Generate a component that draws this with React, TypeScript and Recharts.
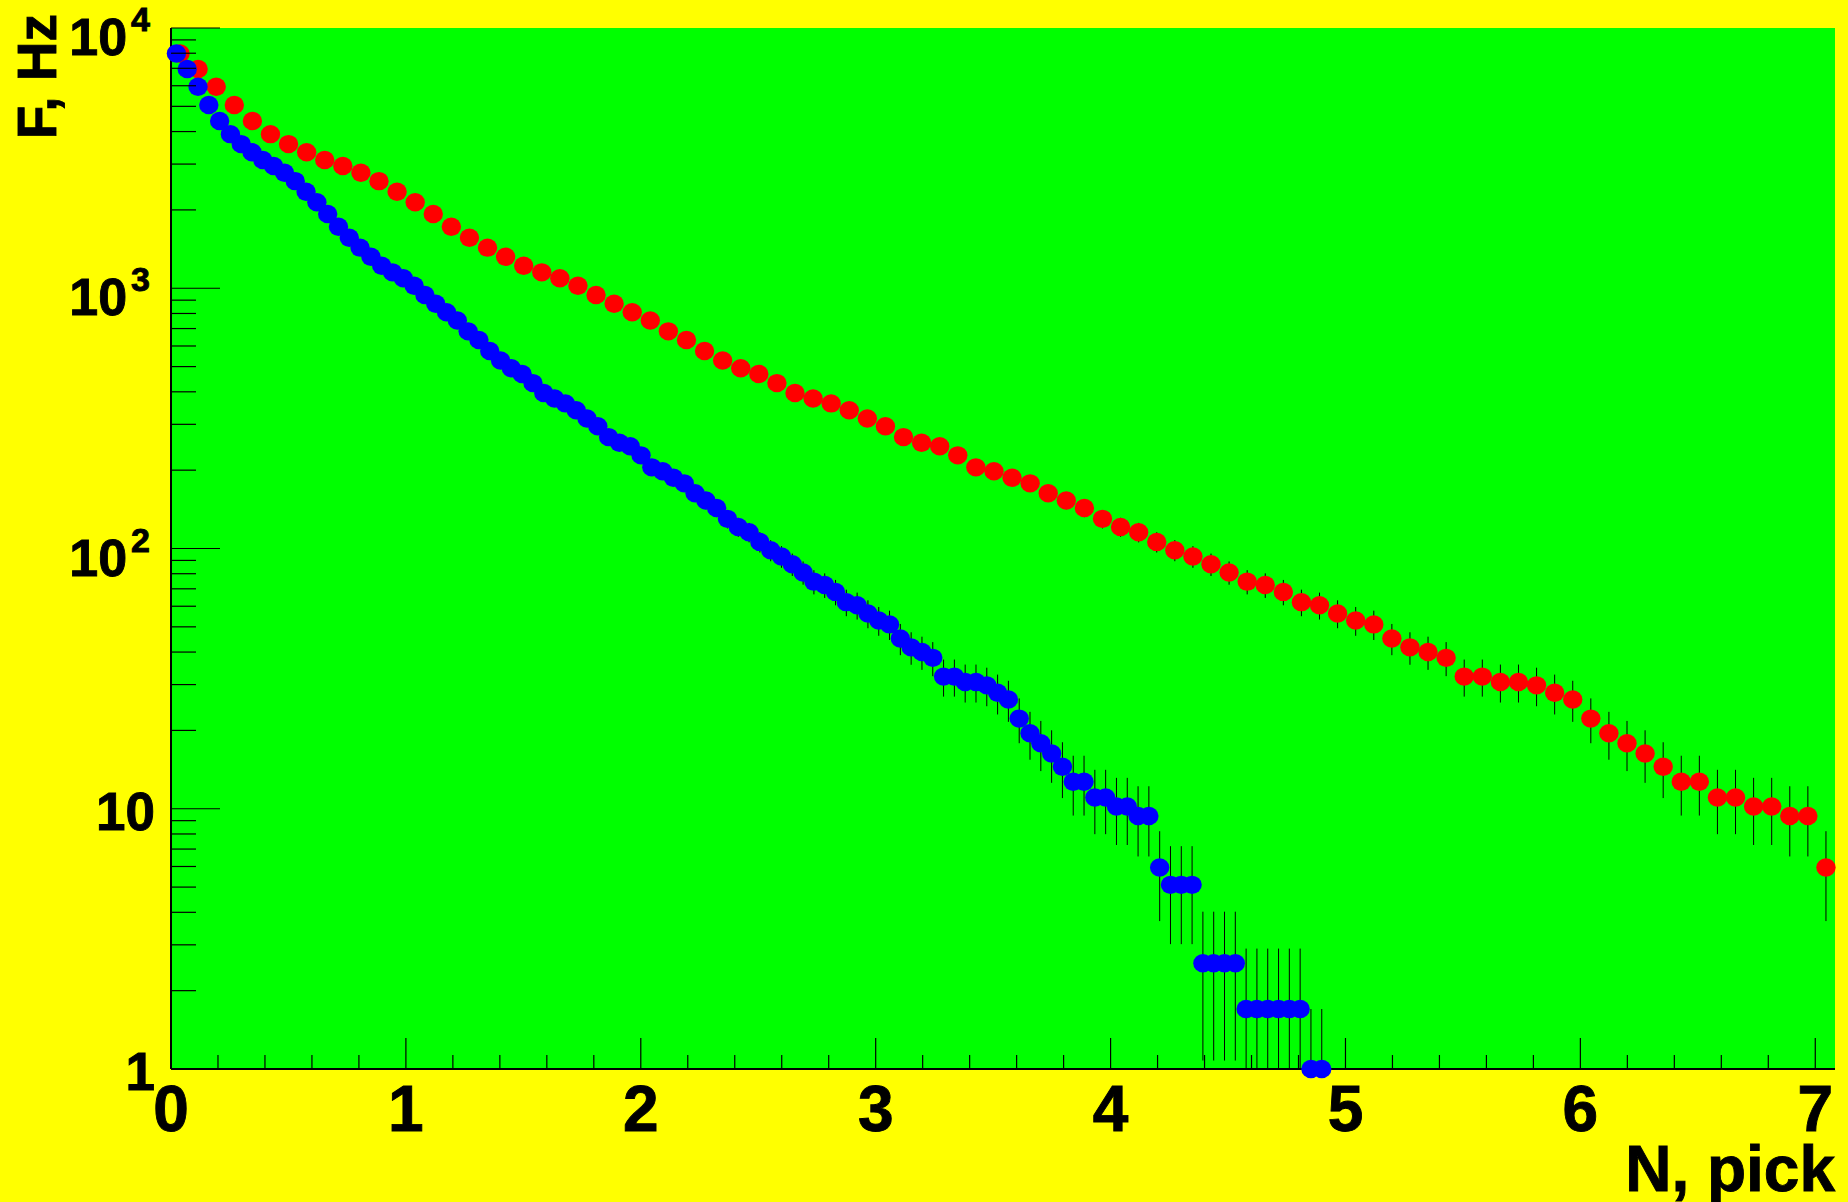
import React from 'react';
import { ScatterChart, Scatter, XAxis, YAxis, CartesianGrid, ErrorBar } from 'recharts';

// Rate per bin (Hz). The same histogram is drawn twice:
// red with the wide bin width, blue with the narrow one.
const binRates = [
  7980, 6960, 5950, 5060, 4390, 3910, 3580, 3330, 3110, 2950,
  2780, 2580, 2350, 2140, 1930, 1724, 1564, 1432, 1322, 1221,
  1151, 1092, 1023, 942, 872, 809, 752, 683, 633, 574,
  528, 493, 468, 432, 396, 377, 361, 340, 316, 295,
  268, 255, 247, 228, 205, 198, 187, 178, 163, 153,
  143, 130, 121, 115.5, 106, 98.5, 93.2, 87.0, 80.9, 74.6,
  72.4, 68.1, 62.2, 60.5, 56.3, 52.9, 51.1, 45.1, 41.7, 40.0,
  38.0, 32.2, 32.2, 30.7, 30.7, 29.8, 27.9, 26.3, 22.2, 19.5,
  17.85, 16.3, 14.5, 12.7, 12.7, 11.05, 11.05, 10.2, 10.2, 9.38,
  9.38, 5.95, 5.1, 5.1, 5.1, 2.55, 2.55, 2.55, 2.55, 1.7,
  1.7, 1.7, 1.7, 1.7, 1.7, 0.85, 0.85,
];

// Hz carried by one count (error bars are Poisson: sqrt(N) counts)
const COUNT_WEIGHT = 0.85;

const redBinWidth = 0.077;
const blueBinWidth = 0.046;

const X_MIN = 0;
const X_MAX = 7.084;
const Y_MIN = 1;
const Y_MAX = 10000;

const xTicks = [
  0, 0.2, 0.4, 0.6, 0.8, 1, 1.2, 1.4, 1.6, 1.8,
  2, 2.2, 2.4, 2.6, 2.8, 3, 3.2, 3.4, 3.6, 3.8,
  4, 4.2, 4.4, 4.6, 4.8, 5, 5.2, 5.4, 5.6, 5.8,
  6, 6.2, 6.4, 6.6, 6.8, 7,
];
const xLabelTicks = [0, 1, 2, 3, 4, 5, 6, 7];

const yTicks = [
  1, 2, 3, 4, 5, 6, 7, 8, 9,
  10, 20, 30, 40, 50, 60, 70, 80, 90,
  100, 200, 300, 400, 500, 600, 700, 800, 900,
  1000, 2000, 3000, 4000, 5000, 6000, 7000, 8000, 9000,
  10000,
];
const yLabelTicks = [1, 10, 100, 1000, 10000];

const xTitle = 'N, pick';
const yTitle = 'F, Hz';

const FONT = '"Liberation Sans", Arial, Helvetica, sans-serif';
const BG = '#ffff00';
const PLOT_BG = '#00ff00';
const RED = '#ff0000';
const BLUE = '#0000ff';
const TEXT_STROKE = 0.9;

function buildSeries(binWidth: number) {
  return binRates
    .map((v, i) => {
      const x = (i + 0.5) * binWidth;
      const y = Math.max(v, Y_MIN);
      const err = Math.sqrt(COUNT_WEIGHT * v);
      const hi = v + err - y;
      const lo = Math.max(0, Math.min(y - (v - err), y - Y_MIN));
      return { x, y, err: [lo, hi] };
    })
    .filter((d) => d.x <= X_MAX);
}

const redData = buildSeries(redBinWidth);
const blueData = buildSeries(blueBinWidth);

const makeMarker = (color: string) => (props: any) => {
  const { cx, cy } = props;
  if (cx == null || cy == null || Number.isNaN(cx) || Number.isNaN(cy)) return <g />;
  return <ellipse cx={cx} cy={cy} rx={9.7} ry={9.2} fill={color} stroke="none" />;
};

function XTick(props: any) {
  const { x, y, payload } = props;
  const v = Number(payload?.value);
  const major = xLabelTicks.some((t) => Math.abs(t - v) < 1e-6);
  return (
    <g>
      <line x1={x} x2={x} y1={y} y2={y - (major ? 31 : 14)} stroke="#000" strokeWidth={1.2} />
      {major && (
        <text
          x={x}
          y={y + 62}
          textAnchor="middle"
          fontFamily={FONT}
          fontWeight="bold"
          fontSize={64}
          fill="#000"
          stroke="#000"
          strokeWidth={TEXT_STROKE}
        >
          {Math.round(v)}
        </text>
      )}
    </g>
  );
}

function YTick(props: any) {
  const { x, y, payload } = props;
  const v = Number(payload?.value);
  const major = yLabelTicks.some((t) => Math.abs(t - v) < 1e-6);
  const exp = Math.round(Math.log10(v));
  let label: React.ReactNode = null;
  if (major) {
    if (exp <= 1) {
      label = (
        <text
          x={x - 16}
          y={y + 21}
          textAnchor="end"
          fontFamily={FONT}
          fontWeight="bold"
          fontSize={53}
          fill="#000"
          stroke="#000"
          strokeWidth={TEXT_STROKE}
        >
          {exp === 0 ? '1' : '10'}
        </text>
      );
    } else {
      label = (
        <text
          x={x - 21}
          y={y + 27}
          textAnchor="end"
          fontFamily={FONT}
          fontWeight="bold"
          fontSize={52}
          fill="#000"
          stroke="#000"
          strokeWidth={TEXT_STROKE}
        >
          <tspan>10</tspan>
          <tspan dx={4} dy={-24} fontSize={34}>{exp}</tspan>
        </text>
      );
    }
  }
  return (
    <g>
      <line x1={x} x2={x + (major ? 49 : 25)} y1={y} y2={y} stroke="#000" strokeWidth={1.2} />
      {label}
    </g>
  );
}

function XTitle(props: any) {
  const vb = props.viewBox || { x: 171, y: 1069, width: 1664, height: 133 };
  return (
    <text
      x={vb.x + vb.width}
      y={vb.y + 122}
      textAnchor="end"
      fontFamily={FONT}
      fontWeight="bold"
      fontSize={64}
      fill="#000"
      stroke="#000"
      strokeWidth={TEXT_STROKE}
    >
      {xTitle}
    </text>
  );
}

function YTitle(props: any) {
  const vb = props.viewBox || { x: 0, y: 28, width: 171, height: 1041 };
  const tx = vb.x + 56;
  const ty = vb.y - 14;
  return (
    <text
      x={tx}
      y={ty}
      transform={`rotate(-90, ${tx}, ${ty})`}
      textAnchor="end"
      fontFamily={FONT}
      fontWeight="bold"
      fontSize={55}
      fill="#000"
      stroke="#000"
      strokeWidth={TEXT_STROKE}
    >
      {yTitle}
    </text>
  );
}

export default function App() {
  return (
    <div
      style={{
        position: 'absolute',
        left: 0,
        top: 0,
        width: 1848,
        height: 1202,
        background: BG,
        overflow: 'hidden',
      }}
    >
      <ScatterChart width={1848} height={1202} margin={{ top: 28, right: 13, bottom: 0, left: 0 }}>
        <CartesianGrid fill={PLOT_BG} horizontal={false} vertical={false} stroke="none" />
        <XAxis
          dataKey="x"
          type="number"
          domain={[X_MIN, X_MAX]}
          ticks={xTicks}
          interval={0}
          height={133}
          tickSize={0}
          tickMargin={0}
          tick={<XTick />}
          tickLine={false}
          axisLine={{ stroke: '#000', strokeWidth: 2 }}
          label={<XTitle />}
        />
        <XAxis
          xAxisId="top"
          orientation="top"
          type="number"
          domain={[X_MIN, X_MAX]}
          height={0}
          tick={false}
          tickLine={false}
          axisLine={{ stroke: '#000', strokeWidth: 2 }}
        />
        <YAxis
          dataKey="y"
          type="number"
          scale="log"
          domain={[Y_MIN, Y_MAX]}
          ticks={yTicks}
          interval={0}
          width={171}
          tickSize={0}
          tickMargin={0}
          tick={<YTick />}
          tickLine={false}
          axisLine={{ stroke: '#000', strokeWidth: 2 }}
          label={<YTitle />}
        />
        <YAxis
          yAxisId="right"
          orientation="right"
          type="number"
          domain={[Y_MIN, Y_MAX]}
          width={0}
          tick={false}
          tickLine={false}
          axisLine={{ stroke: '#000', strokeWidth: 2 }}
        />
        <Scatter data={redData} dataKey="y" fill={RED} shape={makeMarker(RED)} isAnimationActive={false}>
          <ErrorBar dataKey="err" direction="y" width={0} stroke="#000" strokeWidth={1} isAnimationActive={false} />
        </Scatter>
        <Scatter data={blueData} dataKey="y" fill={BLUE} shape={makeMarker(BLUE)} isAnimationActive={false}>
          <ErrorBar dataKey="err" direction="y" width={0} stroke="#000" strokeWidth={1} isAnimationActive={false} />
        </Scatter>
      </ScatterChart>
    </div>
  );
}
